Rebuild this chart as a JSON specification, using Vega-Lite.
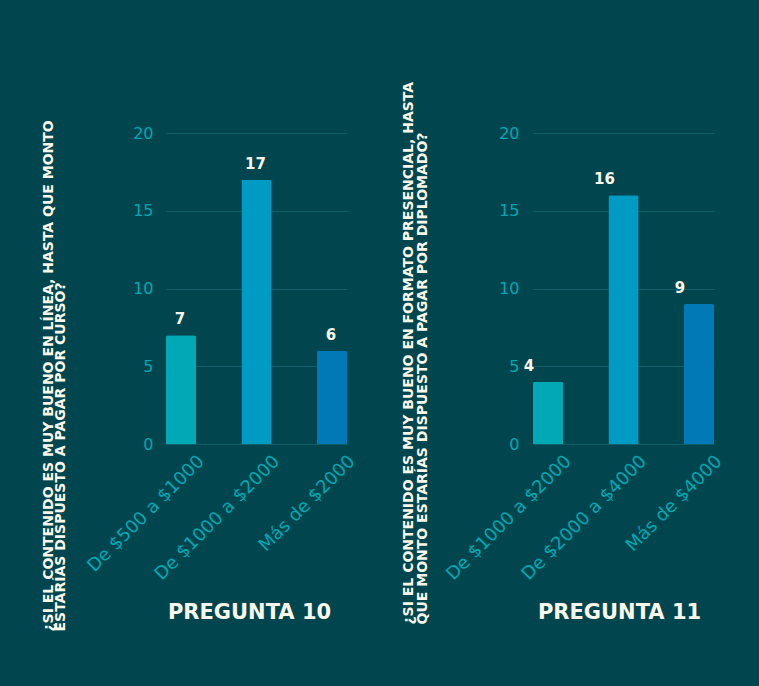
{
  "$schema": "https://vega.github.io/schema/vega-lite/v6.json",
  "background": "#01464f",
  "padding": {"left": 40, "top": 81, "right": 39, "bottom": 56},
  "bounds": "flush",
  "spacing": 186,
  "config": {
    "view": {"stroke": null},
    "font": "DejaVu Sans",
    "axis": {
      "domain": false,
      "ticks": false,
      "labelFont": "DejaVu Sans",
      "titleFont": "DejaVu Sans",
      "labelColor": "#00a8b2",
      "titleColor": "#fbf7ea",
      "titleFontWeight": "bold"
    }
  },
  "hconcat": [
    {
      "width": 181,
      "height": 311,
      "data": {"values": [
        {"rango": "De $500 a $1000", "respuestas": 7},
        {"rango": "De $1000 a $2000", "respuestas": 17},
        {"rango": "Más de $2000", "respuestas": 6}
      ]},
      "encoding": {
        "x": {"field": "rango", "type": "nominal", "sort": null,
          "scale": {"paddingInner": 0.6, "paddingOuter": 0},
          "axis": {"labelAngle": -45, "labelFontSize": 18, "labelOffset": 14, "labelPadding": 8, "labelLimit": 0, "labelOverlap": false, "grid": false,
            "title": "PREGUNTA 10", "titleFontSize": 21, "titleX": 83, "titleY": 174, "titleAlign": "center", "titleBaseline": "alphabetic", "titleAnchor": null}},
        "y": {"field": "respuestas", "type": "quantitative",
          "scale": {"domain": [0, 20]},
          "axis": {"values": [0, 5, 10, 15, 20], "labelFontSize": 16, "labelPadding": 13, "grid": true, "gridColor": "#0f5f6b", "gridWidth": 1,
            "title": ["¿SI EL CONTENIDO ES MUY BUENO EN LÍNEA, HASTA QUE MONTO", "ESTARÍAS DISPUESTO A PAGAR POR CURSO?"],
            "titleAngle": 270, "titleX": -125, "titleY": 498, "titleAlign": "left", "titleBaseline": "top", "titleFontSize": 14, "titleLineHeight": 12}}
      },
      "layer": [
        {"mark": {"type": "bar", "cornerRadiusTopLeft": 2, "cornerRadiusTopRight": 2},
         "encoding": {"color": {"field": "rango", "type": "nominal", "legend": null,
           "scale": {"domain": ["De $500 a $1000", "De $1000 a $2000", "Más de $2000"], "range": ["#00a9b5", "#009bc2", "#0079b6"]}}}},
        {"mark": {"type": "text", "baseline": "alphabetic", "dy": -11, "dx": -1, "color": "#fbf7ea", "fontWeight": "bold", "fontSize": 15},
         "encoding": {"text": {"field": "respuestas", "type": "quantitative"}}}
      ],
      "resolve": {"scale": {"color": "independent"}}
    },
    {
      "width": 181,
      "height": 311,
      "data": {"values": [
        {"rango": "De $1000 a $2000", "respuestas": 4},
        {"rango": "De $2000 a $4000", "respuestas": 16},
        {"rango": "Más de $4000", "respuestas": 9}
      ]},
      "encoding": {
        "x": {"field": "rango", "type": "nominal", "sort": null,
          "scale": {"paddingInner": 0.6, "paddingOuter": 0},
          "axis": {"labelAngle": -45, "labelFontSize": 18, "labelOffset": 14, "labelPadding": 8, "labelLimit": 0, "labelOverlap": false, "grid": false,
            "title": "PREGUNTA 11", "titleFontSize": 21, "titleX": 86, "titleY": 174, "titleAlign": "center", "titleBaseline": "alphabetic", "titleAnchor": null}},
        "y": {"field": "respuestas", "type": "quantitative",
          "scale": {"domain": [0, 20]},
          "axis": {"values": [0, 5, 10, 15, 20], "labelFontSize": 16, "labelPadding": 14, "grid": true, "gridColor": "#0f5f6b", "gridWidth": 1,
            "title": ["¿SI EL CONTENIDO ES MUY BUENO EN FORMATO PRESENCIAL, HASTA", "QUE MONTO ESTARÍAS DISPUESTO A PAGAR POR DIPLOMADO?"],
            "titleAngle": 270, "titleX": -132, "titleY": 491, "titleAlign": "left", "titleBaseline": "top", "titleFontSize": 14, "titleLineHeight": 14}}
      },
      "layer": [
        {"mark": {"type": "bar", "cornerRadiusTopLeft": 2, "cornerRadiusTopRight": 2},
         "encoding": {"color": {"field": "rango", "type": "nominal", "legend": null,
           "scale": {"domain": ["De $1000 a $2000", "De $2000 a $4000", "Más de $4000"], "range": ["#00a9b5", "#009bc2", "#0079b6"]}}}},
        {"mark": {"type": "text", "baseline": "alphabetic", "dy": -11, "dx": -19, "color": "#fbf7ea", "fontWeight": "bold", "fontSize": 15},
         "encoding": {"text": {"field": "respuestas", "type": "quantitative"}}}
      ],
      "resolve": {"scale": {"color": "independent"}}
    }
  ],
  "resolve": {"scale": {"color": "independent", "x": "independent", "y": "independent"}}
}
